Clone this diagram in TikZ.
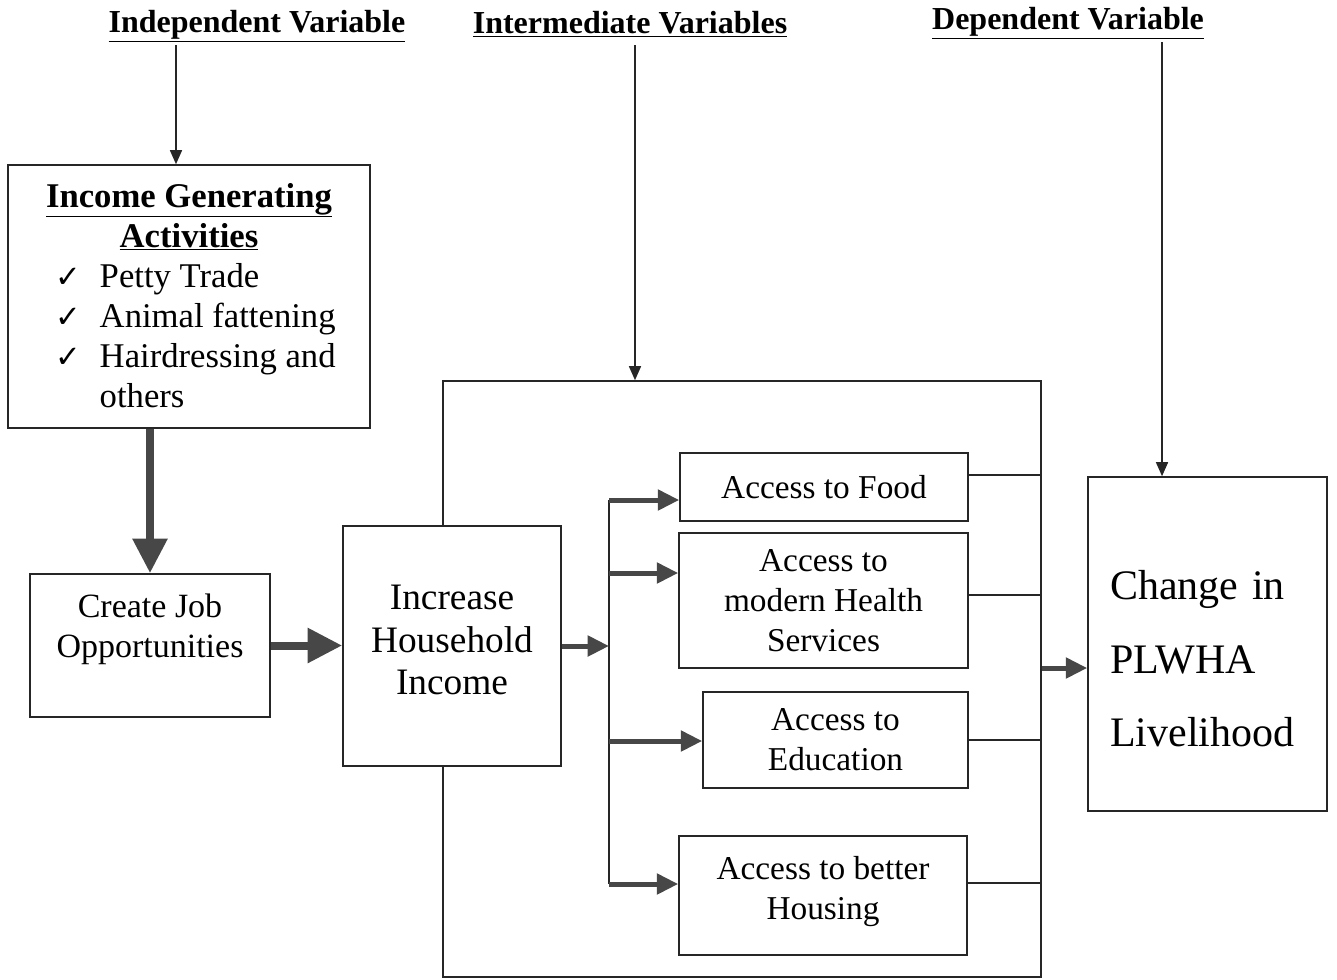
\documentclass[tikz,border=0pt]{standalone}
\usepackage{fontspec}
\setmainfont{Liberation Serif}
\newfontfamily\symfont{DejaVu Sans}
\usetikzlibrary{arrows.meta}
\newcommand{\chk}{{\symfont\fontsize{23}{23}\selectfont ✓}}

\begin{document}
\begin{tikzpicture}[x=0.75pt,y=0.75pt,yscale=-1,xscale=1,
  box/.style={draw=black!85, line width=1.2pt, inner sep=0pt, align=center},
  head/.style={font=\fontsize{24}{28}\selectfont\bfseries},
  thinarrow/.style={draw=black!85, line width=1.1pt, -{Triangle[length=10.5pt,width=9pt]}},
  bigarrow/.style={draw=black!72, line width=6pt, -{Triangle[length=26pt,width=25pt]}},
  midarrow/.style={draw=black!72, line width=3.75pt, -{Triangle[length=16pt,width=15pt]}},
  wire/.style={draw=black!85, line width=1.1pt}]
 \useasboundingbox (0,0) rectangle (1337,979);

 % headings
 \node[head] (indep) at (257,26) {\underline{Independent Variable}};
 \node[head] (interm) at (630,24) {\underline{Intermediate Variables}};
 \node[head] (dep) at (1068,23) {\underline{Dependent Variable}};

 \node[box, font=\fontsize{26}{30}\selectfont, minimum width=271.5pt, minimum height=197.25pt] (iga) at (189,296.5)
  {\rule{0pt}{25pt}{\bfseries\underline{Income Generating}}\\{\bfseries\underline{Activities}}\\
   \hspace*{10pt}\begin{tabular}[t]{@{}p{33pt}@{}l@{}}\chk & Petty Trade\\ \chk & Animal fattening\\ \chk & Hairdressing and\\ & others\end{tabular}};
 \node[box, font=\fontsize{25.5}{30}\selectfont, minimum width=180pt, minimum height=107.25pt] (create) at (150,645.5) {Create Job\\Opportunities\\~};

 \node[box, minimum width=448.5pt, minimum height=447pt] (inter) at (742,679) {};
 \node[box, fill=white, font=\fontsize{28}{32}\selectfont, minimum width=163.5pt, minimum height=180pt] (incr) at (452,646) {Increase\\Household\\Income\\[-23pt]~};

 \node[box, font=\fontsize{25}{30}\selectfont, minimum width=216pt, minimum height=51pt] (food) at (824,487) {Access to Food};
 \node[box, font=\fontsize{25}{30}\selectfont, minimum width=216.75pt, minimum height=101.25pt] (health) at (823.5,600.5) {Access to\\modern Health\\Services};
 \node[box, font=\fontsize{25}{30}\selectfont, minimum width=198.75pt, minimum height=72pt] (educ) at (835.5,740) {Access to\\Education};
 \node[box, font=\fontsize{25}{30}\selectfont, minimum width=216pt, minimum height=89.25pt] (house) at (823,895.5) {Access to better\\Housing\\[-18pt]~};

 \node[box, font=\fontsize{31.5}{55}\selectfont, align=left, text width=146.25pt, minimum width=179.25pt, minimum height=250.5pt] (change) at (1207.5,644) {\rule{0pt}{44pt}Change in\\PLWHA\\Livelihood};

 % arrows from headings
 \coordinate (a1) at (176,45);
 \coordinate (a2) at (635,45);
 \coordinate (a3) at (1162,42);
 \draw[thinarrow] (a1) -- (a1 |- iga.north);
 \draw[thinarrow] (a2) -- (a2 |- inter.north);
 \draw[thinarrow] (a3) -- (a3 |- change.north);

 \draw[bigarrow] (create.north |- iga.south) -- (create.north);
 \draw[bigarrow] (create.east) -- (create.east -| incr.west);

 % bus
 \coordinate (b1) at (609,500);
 \coordinate (b2) at (609,573);
 \coordinate (b3) at (609,741);
 \coordinate (b4) at (609,884);
 \draw[wire] (b1) -- (b4);
 \draw[midarrow] (incr.east) -- (incr.east -| b1);
 \draw[midarrow] (b1) -- (b1 -| food.west);
 \draw[midarrow] (b2) -- (b2 -| health.west);
 \draw[midarrow] (b3) -- (b3 -| educ.west);
 \draw[midarrow] (b4) -- (b4 -| house.west);

 \path ([yshift=-9pt]food.east) coordinate (r1) ([yshift=-4pt]health.east) coordinate (r2)
  (educ.east) coordinate (r3) ([yshift=-9.4pt]house.east) coordinate (r4);
 \foreach \r in {r1,r2,r3,r4} \draw[wire] (\r) -- (\r -| inter.east);

 \path ([yshift=18pt]change.west) coordinate (o1);
 \draw[midarrow] (o1 -| inter.east) -- (o1);
\end{tikzpicture}
\end{document}
